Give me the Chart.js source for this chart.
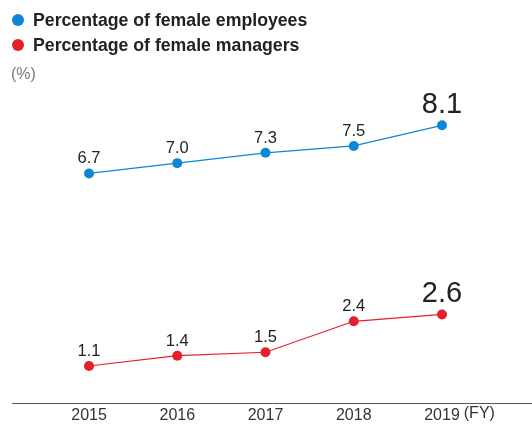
<!DOCTYPE html>
<html>
<head>
<meta charset="utf-8">
<title>Female employees and managers</title>
<script src="https://cdn.jsdelivr.net/npm/chart.js@4.4.1/dist/chart.umd.min.js"></script>
<style>
  html, body { margin: 0; padding: 0; background: #fff; }
  #wrap { width: 532px; height: 427px; position: relative; }
</style>
</head>
<body>
<div id="wrap"><canvas id="ratioChart"></canvas></div>
<script>
// Fiscal years and shares (%)
var years = ['2015', '2016', '2017', '2018', '2019'];
var employeeShare = [6.7, 7.0, 7.3, 7.5, 8.1];
var managerShare = [1.1, 1.4, 1.5, 2.4, 2.6];
var seriesNames = ['Percentage of female employees', 'Percentage of female managers'];
var unitLabel = '(%)';
var yearSuffix = '(FY)';

var BLUE = '#0b87d4';
var RED = '#e5202b';
var FONT = '"Liberation Sans", Arial, Helvetica, sans-serif';

function toPoints(values) {
    return values.map(function(v, i) { return { x: i, y: v }; });
}

// Legend in the top-left corner plus the unit label below it
var legendPlugin = {
    id: 'stackedLegend',
    afterDraw: function(chart) {
        var ctx = chart.ctx;
        ctx.save();
        chart.data.datasets.forEach(function(ds, i) {
            var cy = 20 + i * 25;
            ctx.fillStyle = ds.borderColor;
            ctx.beginPath();
            ctx.arc(18, cy, 6, 0, Math.PI * 2);
            ctx.fill();
            ctx.fillStyle = '#222';
            ctx.font = 'bold 17.7px ' + FONT;
            ctx.textAlign = 'left';
            ctx.textBaseline = 'alphabetic';
            ctx.fillText(ds.label, 33, cy + 6);
        });
        ctx.fillStyle = '#7a7a7a';
        ctx.font = '16px ' + FONT;
        ctx.fillText(unitLabel, 11, 79);
        ctx.restore();
    }
};

// Value labels above each point, the latest year drawn larger
var valueLabelPlugin = {
    id: 'valueLabels',
    afterDatasetsDraw: function(chart) {
        var ctx = chart.ctx;
        ctx.save();
        ctx.fillStyle = '#222';
        ctx.textAlign = 'center';
        ctx.textBaseline = 'alphabetic';
        chart.data.datasets.forEach(function(ds, di) {
            var meta = chart.getDatasetMeta(di);
            meta.data.forEach(function(pt, i) {
                var last = i === ds.data.length - 1;
                ctx.font = (last ? '29px ' : '16.5px ') + FONT;
                ctx.fillText(ds.data[i].y.toFixed(1), pt.x, pt.y - (last ? 12 : 10));
            });
        });
        ctx.restore();
    }
};

// "(FY)" after the last year on the x axis
var suffixPlugin = {
    id: 'yearSuffix',
    afterDraw: function(chart) {
        var x = chart.scales.x;
        var ctx = chart.ctx;
        ctx.save();
        ctx.font = '16px ' + FONT;
        ctx.fillStyle = '#333';
        ctx.textAlign = 'left';
        ctx.textBaseline = 'top';
        var lastX = x.getPixelForValue(years.length - 1);
        var w = ctx.measureText(years[years.length - 1]).width;
        ctx.fillText(yearSuffix, lastX + w / 2 + 4, x.top + 2);
        ctx.restore();
    }
};

var ctx = document.getElementById('ratioChart').getContext('2d');
var ratioChart = new Chart(ctx, {
    type: 'line',
    data: {
        datasets: [
            {
                label: seriesNames[0],
                data: toPoints(employeeShare),
                borderColor: BLUE,
                backgroundColor: BLUE,
                pointBackgroundColor: BLUE,
                borderWidth: 1.2,
                pointRadius: 5,
                pointBorderWidth: 0,
                tension: 0,
                clip: false
            },
            {
                label: seriesNames[1],
                data: toPoints(managerShare),
                borderColor: RED,
                backgroundColor: RED,
                pointBackgroundColor: RED,
                borderWidth: 1.2,
                pointRadius: 5,
                pointBorderWidth: 0,
                tension: 0,
                clip: false
            }
        ]
    },
    options: {
        responsive: true,
        maintainAspectRatio: false,
        animation: false,
        layout: { autoPadding: false, padding: { top: 60, left: 12, right: 0, bottom: 0 } },
        plugins: {
            legend: { display: false },
            tooltip: { enabled: false }
        },
        scales: {
            x: {
                type: 'linear',
                min: -0.873,
                max: 5.02,
                afterBuildTicks: function(scale) {
                    scale.ticks = years.map(function(y, i) { return { value: i }; });
                },
                grid: { display: false, drawTicks: false },
                border: { display: true, color: '#555', width: 1 },
                ticks: {
                    padding: 2,
                    autoSkip: false,
                    maxRotation: 0,
                    color: '#333',
                    font: { family: FONT, size: 16 },
                    callback: function(value) { return years[value]; }
                }
            },
            y: {
                display: false,
                min: 0,
                max: 10
            }
        }
    },
    plugins: [legendPlugin, valueLabelPlugin, suffixPlugin]
});
</script>
</body>
</html>
